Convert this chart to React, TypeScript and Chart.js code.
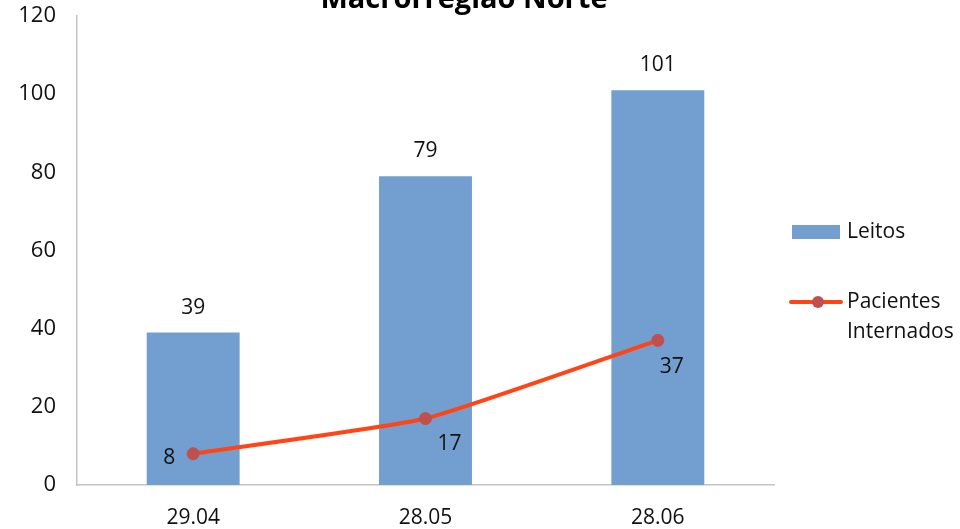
import React, { useEffect, useRef } from "react";
import { Chart, registerables } from "chart.js";

Chart.register(...registerables);

const title = "Macrorregião Norte";
const categories = ["29.04", "28.05", "28.06"];
const leitos = [39, 79, 101];
const pacientes = [8, 17, 37];
const yMax = 120;
const yStep = 20;
const seriesNames = ["Leitos", ["Pacientes", "Internados"]];

const FONT = "'Open Sans', 'Noto Sans', sans-serif";
const BAR = "#729fcf";
const LINE = "#ff4516";
const POINT = "#c0504d";

const lineLabelOffsets = [
  [-24, 4],
  [24, 25],
  [14, 27],
];

const overlay = {
  id: "overlay",
  afterDatasetsDraw(chart: any) {
    const ctx = chart.ctx;
    const area = chart.chartArea;
    ctx.save();
    ctx.fillStyle = "#000";
    ctx.font = `bold 29px ${FONT}`;
    ctx.textAlign = "center";
    ctx.textBaseline = "alphabetic";
    ctx.fillText(title, 464, 8);

    ctx.font = `21px ${FONT}`;
    ctx.fillStyle = "#111";
    ctx.textBaseline = "middle";
    const barMeta = chart.getDatasetMeta(0);
    barMeta.data.forEach((el: any, i: number) => {
      ctx.fillText(String(leitos[i]), el.x, el.y - 25);
    });
    const lineMeta = chart.getDatasetMeta(1);
    lineMeta.data.forEach((el: any, i: number) => {
      const o = lineLabelOffsets[i];
      ctx.fillText(String(pacientes[i]), el.x + o[0], el.y + o[1]);
    });

    const lx = area.right + 18;
    const tx = area.right + 73;
    ctx.fillStyle = BAR;
    ctx.fillRect(lx, 225, 48, 14);
    ctx.fillStyle = "#111";
    ctx.textAlign = "left";
    ctx.fillText(seriesNames[0] as string, tx, 232);

    ctx.strokeStyle = LINE;
    ctx.lineWidth = 4;
    ctx.lineCap = "round";
    ctx.beginPath();
    ctx.moveTo(lx - 1, 302);
    ctx.lineTo(lx + 49, 302);
    ctx.stroke();
    ctx.fillStyle = POINT;
    ctx.beginPath();
    ctx.arc(lx + 26, 302, 6, 0, Math.PI * 2);
    ctx.fill();
    ctx.fillStyle = "#111";
    const names = seriesNames[1] as string[];
    names.forEach((n, i) => ctx.fillText(n, tx, 302 + i * 30));
    ctx.restore();
  },
};

export default function App() {
  const ref = useRef<HTMLCanvasElement>(null);
  useEffect(() => {
    if (!ref.current) return;
    const chart = new Chart(ref.current, {
      type: "bar",
      data: {
        labels: categories,
        datasets: [
          {
            type: "bar",
            label: "Leitos",
            data: leitos,
            backgroundColor: BAR,
            categoryPercentage: 1,
            barPercentage: 0.4,
            order: 1,
          } as any,
          {
            type: "line",
            label: "Pacientes Internados",
            data: pacientes,
            borderColor: LINE,
            borderWidth: 4,
            pointRadius: 6,
            pointBackgroundColor: POINT,
            pointBorderColor: POINT,
            pointBorderWidth: 1,
            tension: 0.15,
            order: 0,
          } as any,
        ],
      },
      options: {
        animation: false,
        responsive: false,
        layout: { padding: { left: 0, right: 186, top: 16, bottom: 0 } },
        plugins: {
          legend: { display: false },
          title: { display: false },
          tooltip: { enabled: false },
        },
        scales: {
          x: {
            grid: { display: false, drawTicks: false },
            border: { display: true, color: "#c4c4c4", width: 1.5 },
            ticks: { color: "#111", font: { family: FONT, size: 21 }, padding: 20 },
            afterFit: (s: any) => {
              s.height = 44;
              s.paddingLeft = 0;
              s.paddingRight = 0;
            },
          },
          y: {
            min: 0,
            max: yMax,
            grid: { display: false, drawTicks: false },
            border: { display: true, color: "#c4c4c4", width: 1.5 },
            ticks: { stepSize: yStep, color: "#111", font: { family: FONT, size: 22 }, padding: 21 },
            afterFit: (s: any) => {
              s.width = 77;
              s.paddingTop = 0;
              s.paddingBottom = 0;
            },
          },
        },
      },
      plugins: [overlay],
    });
    return () => chart.destroy();
  }, []);
  return (
    <div style={{ position: "absolute", left: 0, top: 0, width: 960, height: 529 }}>
      <canvas ref={ref} width={960} height={529} />
    </div>
  );
}
